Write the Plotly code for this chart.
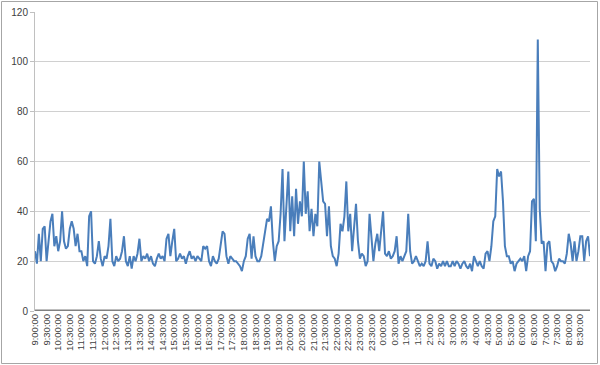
import plotly.graph_objects as go

# 5-minute samples starting at 9:00:00 (288 points over 24 h)
values_0900_1350 = [24, 19, 31, 20, 33, 34, 20, 29, 36, 39, 26, 30, 24, 28, 40, 28, 25, 26, 33, 36,
                    33, 26, 31, 24, 24, 20, 22, 18, 38, 40, 20, 19, 22, 28, 21, 18, 22, 21, 26, 37,
                    20, 18, 22, 20, 21, 24, 30, 20, 18, 22, 17, 22, 20, 23, 29, 20, 22, 21]
values_1350_1830 = [23, 20, 22, 19, 18, 21, 23, 21, 22, 20, 29, 31, 22, 28, 33, 20, 21, 23, 21, 22,
                    19, 22, 24, 21, 22, 20, 22, 21, 20, 26, 25, 26, 20, 18, 22, 20, 19, 21, 26, 32,
                    31, 22, 19, 22, 21, 20, 20, 19, 18, 16, 20, 22, 29, 31, 21, 30, 22, 20]
values_1840_2325 = [20, 22, 27, 32, 37, 36, 42, 28, 20, 26, 28, 39, 57, 28, 44, 56, 32, 46, 30, 49,
                    35, 44, 38, 60, 39, 48, 32, 41, 30, 39, 34, 60, 52, 44, 43, 30, 42, 26, 22, 21,
                    18, 23, 35, 32, 38, 52, 32, 39, 24, 32, 43, 28, 21, 23, 22, 18, 20, 39]
values_2330_0405 = [28, 20, 27, 31, 24, 32, 40, 23, 22, 24, 21, 22, 24, 30, 19, 22, 20, 22, 24, 39,
                    24, 19, 20, 22, 20, 18, 19, 18, 20, 28, 19, 18, 21, 20, 17, 19, 18, 20, 18, 20,
                    18, 18, 20, 18, 20, 19, 17, 19, 20, 18, 17, 19, 16, 22, 20, 18]
values_0410_0855 = [20, 18, 17, 23, 24, 20, 26, 36, 38, 57, 54, 56, 44, 26, 22, 22, 19, 20, 16, 19,
                    20, 21, 20, 22, 16, 22, 24, 44, 45, 28, 109, 41, 27, 28, 16, 27, 28, 20, 19, 16,
                    18, 21, 20, 20, 19, 23, 31, 27, 20, 28, 20, 24, 30, 30, 20, 28, 30, 22]

values = values_0900_1350 + values_1350_1830 + values_1840_2325 + values_2330_0405 + values_0410_0855

# x-axis category labels every 30 minutes
tick_labels = ["9:00:00", "9:30:00", "10:00:00", "10:30:00", "11:00:00", "11:30:00", "12:00:00",
               "12:30:00", "13:00:00", "13:30:00", "14:00:00", "14:30:00", "15:00:00", "15:30:00",
               "16:00:00", "16:30:00", "17:00:00", "17:30:00", "18:00:00", "18:30:00", "19:00:00",
               "19:30:00", "20:00:00", "20:30:00", "21:00:00", "21:30:00", "22:00:00", "22:30:00",
               "23:00:00", "23:30:00", "0:00:00", "0:30:00", "1:00:00", "1:30:00", "2:00:00",
               "2:30:00", "3:00:00", "3:30:00", "4:00:00", "4:30:00", "5:00:00", "5:30:00",
               "6:00:00", "6:30:00", "7:00:00", "7:30:00", "8:00:00", "8:30:00"]
samples_per_label = 6

x_idx = list(range(len(values)))
tick_vals = [k * samples_per_label for k in range(len(tick_labels))]

W, H = 600, 365
ML, MR, MT, MB = 35, 10, 12, 54

fig = go.Figure()
fig.add_trace(go.Scatter(x=x_idx, y=values, mode="lines",
                         line=dict(color="#4a7ebb", width=2), hoverinfo="skip"))

pw = W - ML - MR
ph = H - MT - MB
def px_x(p):
    return (p - ML) / pw
def px_y(p):
    return (H - MB - p) / ph

fig.update_layout(
    width=W, height=H,
    margin=dict(l=ML, r=MR, t=MT, b=MB, autoexpand=False),
    paper_bgcolor="white", plot_bgcolor="white",
    showlegend=False,
    font=dict(family="Liberation Sans, Arial, sans-serif", size=10, color="#404040"),
    xaxis=dict(range=[0, len(values) - 1], tickmode="array", tickvals=tick_vals,
               ticktext=tick_labels, tickangle=-90, showgrid=False, zeroline=False,
               showline=False, ticks="", tickfont=dict(size=9.5), automargin=False),
    yaxis=dict(range=[0, 120], dtick=20, showgrid=True, gridcolor="#d0d0d0", gridwidth=1,
               zeroline=False, showline=True, linecolor="#c0c0c0", linewidth=1,
               ticks="outside", ticklen=4, tickcolor="#c0c0c0", tickfont=dict(size=10),
               automargin=False),
    shapes=[
        dict(type="line", xref="paper", yref="y", x0=0, x1=1, y0=0, y1=0,
             line=dict(color="#808080", width=3), layer="above"),
        dict(type="rect", xref="paper", yref="paper",
             x0=px_x(1.5), x1=px_x(597.5), y0=px_y(363.5), y1=px_y(1.5),
             line=dict(color="#a6a6a6", width=1), layer="below"),
    ],
)

fig.write_html("out.html", config={"displayModeBar": False},
               post_script="document.body.style.margin='0px';document.body.style.overflow='hidden';")
